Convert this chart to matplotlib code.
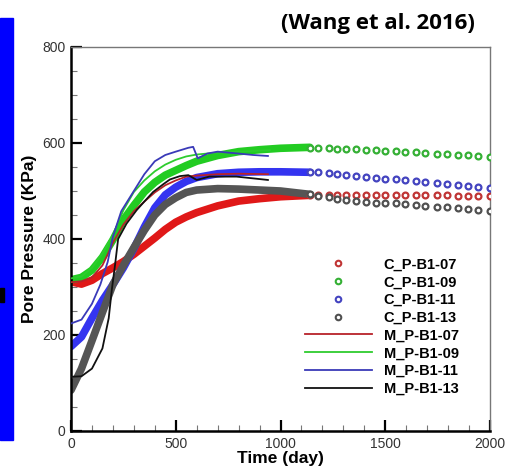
import matplotlib
import matplotlib.pyplot as plt
from matplotlib.patches import Rectangle
from matplotlib.ticker import MultipleLocator

matplotlib.use('Agg')

# --- data ---
# computed series (C_): dense part drawn as a band, sparse part as hollow circles
t_band = [0, 50, 100, 150, 200, 250, 300, 350, 400, 450, 500, 550, 600, 700, 800, 900, 1000, 1140]
c07_band = [311, 306, 314, 328, 340, 353, 368, 385, 402, 420, 435, 446, 455, 469, 479, 484, 488, 491]
c09_band = [315, 320, 335, 362, 398, 440, 470, 498, 518, 533, 543, 553, 562, 574, 582, 586, 589, 591]
c11_band = [176, 196, 235, 272, 305, 340, 380, 425, 465, 492, 508, 520, 528, 536, 539, 540, 540, 539]
c13_band = [85, 130, 188, 247, 305, 345, 382, 418, 450, 472, 486, 497, 502, 505, 504, 502, 500, 493]

t_pts = [1140, 1180, 1230, 1270, 1315, 1360, 1410, 1455, 1500, 1550, 1595, 1645, 1690, 1745, 1795, 1845, 1895, 1945, 2000]
c07_pts = [492, 492, 492, 492, 492, 492, 492, 492, 492, 492, 492, 491, 491, 491, 491, 490, 490, 490, 489]
c09_pts = [590, 589, 589, 588, 587, 587, 586, 585, 584, 583, 582, 581, 580, 578, 577, 576, 575, 573, 571]
c11_pts = [539, 539, 537, 536, 534, 532, 530, 528, 526, 524, 522, 520, 518, 516, 514, 512, 510, 509, 507]
c13_pts = [493, 490, 487, 484, 481, 479, 478, 476, 475, 474, 472, 471, 469, 467, 466, 464, 462, 460, 458]

# measured series (M_)
t_m07 = [0, 50, 100, 150, 175, 200, 250, 300, 350, 400, 450, 500, 550, 600, 700, 800, 940]
m07 = [310, 312, 320, 345, 368, 392, 430, 458, 478, 497, 512, 522, 530, 532, 535, 536, 535]
t_m09 = [0, 50, 100, 150, 200, 250, 300, 350, 400, 450, 500, 550, 600, 700, 800, 950]
m09 = [318, 322, 340, 370, 408, 460, 498, 522, 541, 555, 565, 572, 576, 580, 582, 585]
t_m11 = [0, 50, 100, 140, 175, 200, 240, 300, 350, 400, 450, 500, 560, 583, 605, 650, 700, 800, 870, 940]
m11 = [224, 232, 265, 305, 352, 405, 458, 500, 535, 562, 575, 582, 590, 592, 568, 578, 582, 578, 575, 573]
t_m13 = [0, 50, 100, 150, 180, 195, 210, 225, 265, 313, 350, 392, 440, 472, 520, 560, 600, 660, 790, 940]
m13 = [113, 114, 130, 172, 235, 295, 345, 400, 432, 460, 478, 498, 514, 524, 531, 533, 523, 530, 530, 523]

c_series = [
    ('C_P-B1-07', c07_band, c07_pts, '#e01818', '#c03535'),
    ('C_P-B1-09', c09_band, c09_pts, '#22cc22', '#35b035'),
    ('C_P-B1-11', c11_band, c11_pts, '#3434f0', '#4444c0'),
    ('C_P-B1-13', c13_band, c13_pts, '#555555', '#505050'),
]
m_series = [
    ('M_P-B1-07', t_m07, m07, '#b8222a'),
    ('M_P-B1-09', t_m09, m09, '#2ecc2e'),
    ('M_P-B1-11', t_m11, m11, '#3a3ab8'),
    ('M_P-B1-13', t_m13, m13, '#111111'),
]

plt.rcParams['font.family'] = ['Liberation Sans', 'DejaVu Sans']

fig = plt.figure(figsize=(5.16, 4.66), dpi=100)
ax = fig.add_axes([71 / 516, 35 / 466, 419 / 516, 384 / 466])

# bands + hollow circles for the computed series
for label, band, pts, band_col, pt_col in c_series:
    ax.plot(t_band, band, color=band_col, lw=5.5, solid_capstyle='round', zorder=2)
    ax.plot(t_pts, pts, ls='none', marker='o', ms=4.2, mfc='white', mec=pt_col,
            mew=1.6, zorder=3)
    # legend proxy
    ax.plot([], [], ls='none', marker='o', ms=4.0, mfc='white', mec=pt_col,
            mew=1.5, label=label)

for label, t, p, col in m_series:
    ax.plot(t, p, color=col, lw=1.3, label=label, zorder=4)

ax.set_xlim(0, 2000)
ax.set_ylim(0, 800)
ax.xaxis.set_major_locator(MultipleLocator(500))
ax.xaxis.set_minor_locator(MultipleLocator(100))
ax.yaxis.set_major_locator(MultipleLocator(200))
ax.yaxis.set_minor_locator(MultipleLocator(50))
ax.tick_params(which='major', direction='in', length=8, width=1.6, labelsize=10,
               labelcolor='#333333', pad=4)
ax.tick_params(which='minor', direction='in', length=4, width=0.8, color='#777777')

for side in ['left', 'bottom']:
    ax.spines[side].set_linewidth(1.8)
for side in ['top', 'right']:
    ax.spines[side].set_linewidth(1.0)
    ax.spines[side].set_color('#777777')

ax.set_xlabel('Time (day)', fontsize=12.5, fontweight='bold', labelpad=0)
ax.set_ylabel('Pore Pressure (KPa)', fontsize=12.5, fontweight='bold', labelpad=4)

ax.legend(loc='upper left', bbox_to_anchor=(0.558, 0.452), frameon=False,
          borderpad=0, borderaxespad=0, handlelength=4.6, handletextpad=0.8,
          labelspacing=0.26, prop={'weight': 'bold', 'size': 10.5})

fig.text(378 / 516, 1 - 23 / 466, '(Wang et al. 2016)', ha='center', va='center',
         fontsize=16, fontweight='bold', family='Open Sans')

# blue bar on the left edge of the slide
fig.patches.append(Rectangle((0, 1 - 440 / 466), 13 / 516, 422 / 466,
                             transform=fig.transFigure, color='#0000ff', zorder=0))
fig.patches.append(Rectangle((0, 1 - 302 / 466), 4 / 516, 14 / 466,
                             transform=fig.transFigure, color='black', zorder=1))

fig.savefig('out.png', dpi=100)
